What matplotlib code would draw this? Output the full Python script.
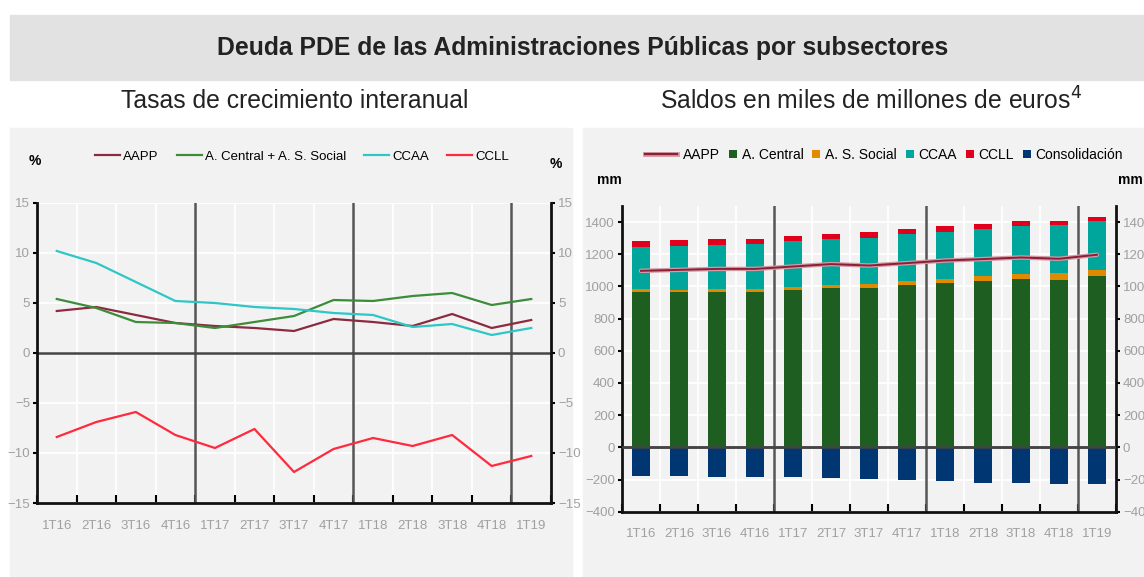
import matplotlib
matplotlib.use("Agg")
import matplotlib.pyplot as plt
from matplotlib.patches import Rectangle
from matplotlib.lines import Line2D
from matplotlib.legend_handler import HandlerPatch, HandlerBase
from matplotlib import font_manager as fm
import numpy as np

# ---------------- data ----------------
quarters = ["1T16", "2T16", "3T16", "4T16", "1T17", "2T17", "3T17", "4T17",
            "1T18", "2T18", "3T18", "4T18", "1T19"]

# Left: growth rates (%)
g_aapp = [4.2, 4.6, 3.8, 3.0, 2.7, 2.5, 2.2, 3.4, 3.1, 2.7, 3.9, 2.5, 3.3]
g_central_ss = [5.4, 4.5, 3.1, 3.0, 2.5, 3.1, 3.7, 5.3, 5.2, 5.7, 6.0, 4.8, 5.4]
g_ccaa = [10.2, 9.0, 7.1, 5.2, 5.0, 4.6, 4.4, 4.0, 3.8, 2.6, 2.9, 1.8, 2.5]
g_ccll = [-8.4, -6.9, -5.9, -8.2, -9.5, -7.6, -11.9, -9.6, -8.5, -9.3, -8.2, -11.3, -10.3]

# Right: stocks (mm euros)
s_central = [968, 963, 968, 968, 979, 993, 993, 1006, 1020, 1035, 1047, 1041, 1062]
s_ss = [15, 16, 17, 17, 17, 15, 23, 25, 25, 27, 29, 42, 41]
s_ccaa = [262, 272, 272, 278, 284, 286, 288, 293, 296, 296, 300, 300, 301]
s_ccll = [35, 35, 36, 32, 34, 35, 32, 32, 33, 32, 28, 25, 27]
s_consol = [-177, -177, -183, -187, -187, -189, -199, -205, -209, -224, -224, -230, -230]
s_aapp = [1097, 1103, 1109, 1109, 1124, 1139, 1130, 1145, 1161, 1170, 1180, 1172, 1197]

# ---------------- fonts ----------------
names = {f.name for f in fm.fontManager.ttflist}
MAIN = "Liberation Sans" if "Liberation Sans" in names else "DejaVu Sans"
NARROW = "Liberation Sans Narrow" if "Liberation Sans Narrow" in names else MAIN
plt.rcParams["font.family"] = [NARROW, "DejaVu Sans"]

W, H = 1144, 577
fig = plt.figure(figsize=(W / 100, H / 100), dpi=100)
fig.patch.set_facecolor("white")

def fx(px):
    return px / W

def fy(py):
    return 1 - py / H

PANEL = "#f2f2f2"
# title band
fig.patches.append(Rectangle((fx(10), fy(80)), 1 - fx(10), fy(15) - fy(80),
                             transform=fig.transFigure, color="#e2e2e2", zorder=-5))
# panels
fig.patches.append(Rectangle((fx(10), 0), fx(572) - fx(10), fy(128),
                             transform=fig.transFigure, color=PANEL, zorder=-5))
fig.patches.append(Rectangle((fx(583), 0), 1 - fx(583), fy(128),
                             transform=fig.transFigure, color=PANEL, zorder=-5))

fig.text(fx(583), fy(48), "Deuda PDE de las Administraciones Públicas por subsectores",
         ha="center", va="center", fontsize=17.8, fontweight="bold", family=MAIN, color="#222222")
fig.text(fx(295), fy(101), "Tasas de crecimiento interanual", ha="center", va="center",
         fontsize=17.8, family=MAIN, color="#222222")
fig.text(fx(871), fy(101), "Saldos en miles de millones de euros$^4$", ha="center", va="center",
         fontsize=17.8, family=MAIN, color="#222222")

TICKC = "#a0a0a0"
x = np.arange(len(quarters))


def style_axes(ax):
    ax.set_facecolor(PANEL)
    ax.set_xlim(-0.5, len(quarters) - 0.5)
    ax.set_xticks(x)
    ax.set_xticklabels(quarters)
    ax.set_xticks(np.arange(-0.5, len(quarters)), minor=True)
    ax.tick_params(axis="x", which="major", length=0, pad=12, labelsize=9.5, labelcolor=TICKC)
    ax.tick_params(axis="x", which="minor", direction="in", length=6, width=1.5, color="black")
    ax.tick_params(axis="y", which="major", direction="out", length=3, width=1.5,
                   labelsize=9.5, labelcolor=TICKC, left=True, right=True,
                   labelleft=True, labelright=True, pad=2)
    ax.grid(True, which="minor", axis="x", color="white", lw=1.3, zorder=0)
    ax.grid(True, which="major", axis="y", color="white", lw=1.3, zorder=0)
    ax.grid(False, which="major", axis="x")
    ax.set_axisbelow(True)
    for s in ["left", "right", "bottom"]:
        ax.spines[s].set_color("#111111")
        ax.spines[s].set_linewidth(2)
    ax.spines["top"].set_visible(False)
    for b in (3.5, 7.5, 11.5):
        ax.axvline(b, color="#555555", lw=1.8, zorder=1)
    ax.axhline(0, color="#444444", lw=1.8, zorder=1)


# ---------------- left chart ----------------
axL = fig.add_axes([fx(37), fy(503), fx(551) - fx(37), fy(203) - fy(503)])
style_axes(axL)
axL.set_ylim(-15, 15)
axL.set_yticks(np.arange(-15, 16, 5))
c_aapp, c_cs, c_ccaa, c_ccll = "#8c2b40", "#3c8c3a", "#2fc6c6", "#ff2a3e"
axL.plot(x, g_aapp, color=c_aapp, lw=1.6, label="AAPP", zorder=3)
axL.plot(x, g_central_ss, color=c_cs, lw=1.6, label="A. Central + A. S. Social", zorder=3)
axL.plot(x, g_ccaa, color=c_ccaa, lw=1.6, label="CCAA", zorder=3)
axL.plot(x, g_ccll, color=c_ccll, lw=1.6, label="CCLL", zorder=3)
axL.legend(loc="center", bbox_to_anchor=(fx(302), fy(157)), bbox_transform=fig.transFigure,
           ncol=4, frameon=False, fontsize=9.5, handlelength=1.9, handletextpad=0.2,
           columnspacing=1.4, borderpad=0, borderaxespad=0)
fig.text(fx(35), fy(161), "%", ha="center", va="center", fontsize=10, fontweight="bold")
fig.text(fx(556), fy(164), "%", ha="center", va="center", fontsize=10, fontweight="bold")

# ---------------- right chart ----------------
axR = fig.add_axes([fx(622), fy(511.7), fx(1116) - fx(622), fy(206) - fy(511.7)])
style_axes(axR)
axR.set_ylim(-400, 1500)
axR.set_yticks(np.arange(-400, 1401, 200))
bw = 0.45
c_g, c_o, c_c, c_r, c_b = "#1f5e21", "#e08a00", "#00a59c", "#e0001b", "#003773"
central = np.array(s_central, float)
ss = np.array(s_ss, float)
ccaa = np.array(s_ccaa, float)
ccll = np.array(s_ccll, float)
b1 = axR.bar(x, central, bw, color=c_g, zorder=2, label="A. Central")
b2 = axR.bar(x, ss, bw, bottom=central, color=c_o, zorder=2, label="A. S. Social")
b3 = axR.bar(x, ccaa, bw, bottom=central + ss, color=c_c, zorder=2, label="CCAA")
b4 = axR.bar(x, ccll, bw, bottom=central + ss + ccaa, color=c_r, zorder=2, label="CCLL")
b5 = axR.bar(x, s_consol, bw, color=c_b, zorder=2, label="Consolidación")
axR.plot(x, s_aapp, color="#d49aa6", lw=3.2, zorder=4, solid_capstyle="round")
axR.plot(x, s_aapp, color="#8a1f35", lw=1.4, zorder=5)
axR.axhline(0, color="#444444", lw=1.8, zorder=3)


def square(legend, orig_handle, xdescent, ydescent, width, height, fontsize):
    s = height * 0.8
    return Rectangle((-xdescent + width - s, -ydescent + (height - s) / 2), s, s)


class LongLine(HandlerBase):
    def create_artists(self, legend, orig_handle, xdescent, ydescent, width, height,
                       fontsize, trans):
        extra = 18
        y = -ydescent + height / 2
        l1 = Line2D([-xdescent - extra, -xdescent + width - 1], [y, y], color="#d49aa6", lw=3.5,
                    transform=trans)
        l2 = Line2D([-xdescent - extra, -xdescent + width - 1], [y, y], color="#8a1f35", lw=1.6,
                    transform=trans)
        return [l1, l2]


h_line = Line2D([], [], color="#8a1f35", lw=3)
handles = [h_line, b1.patches[0], b2.patches[0], b3.patches[0], b4.patches[0], b5.patches[0]]
labels = ["AAPP", "A. Central", "A. S. Social", "CCAA", "CCLL", "Consolidación"]
hm = {b.patches[0]: HandlerPatch(patch_func=square) for b in (b1, b2, b3, b4, b5)}
hm[h_line] = LongLine()
legR = axR.legend(handles, labels, loc="center left", bbox_to_anchor=(fx(670), fy(155)),
                  bbox_transform=fig.transFigure, ncol=6, frameon=False, fontsize=10,
                  handlelength=0.6, handletextpad=0.35, columnspacing=0.6, handler_map=hm,
                  borderpad=0, borderaxespad=0)
fig.text(fx(609), fy(180), "mm", ha="center", va="center", fontsize=10, fontweight="bold")
fig.text(fx(1130), fy(180), "mm", ha="center", va="center", fontsize=10, fontweight="bold")

fig.savefig("out.png", dpi=100, facecolor="white")
